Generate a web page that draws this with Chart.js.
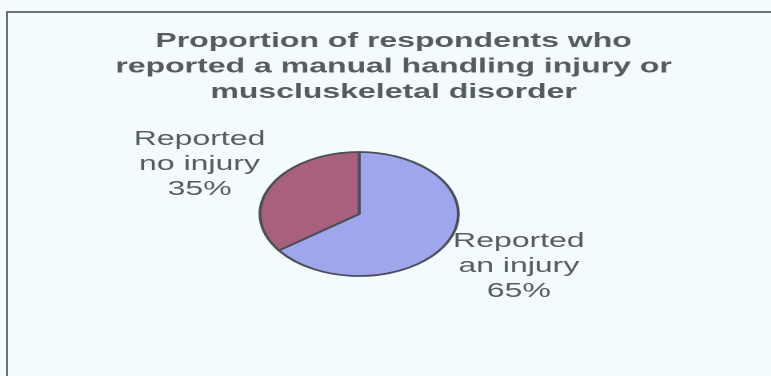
<!DOCTYPE html>
<html>
<head>
<meta charset="utf-8">
<title>Manual handling injuries</title>
<script src="https://cdn.jsdelivr.net/npm/chart.js@4.4.1/dist/chart.umd.min.js"></script>
<style>
  html, body { margin: 0; padding: 0; background: #f3fcfd; overflow: hidden; }
  #page { position: relative; width: 771px; height: 376px; overflow: hidden; }
  #frame {
    position: absolute; left: 6px; top: 11px; width: 820px; height: 420px;
    border-left: 2px solid #6c7179; border-top: 2px solid #6c7179;
  }
  /* the chart is laid out narrow and stretched sideways, like the original sheet */
  #wrap {
    position: absolute; left: 0; top: 0; width: 482px; height: 376px;
    transform: scaleX(1.6); transform-origin: 0 0;
  }
</style>
</head>
<body>
<div id="page">
  <div id="frame"></div>
  <div id="wrap"><canvas id="injuryChart"></canvas></div>
</div>
<script>
const categories = [["Reported", "an injury"], ["Reported", "no injury"]];
const shares = [65, 35];
const titleLines = [
  "Proportion of respondents who",
  "reported a manual handling injury or",
  "muscluskeletal disorder"
];

const FONT = '"Liberation Sans", Arial, sans-serif';

// title and the slice labels sitting outside the pie
const pieText = {
  id: 'pieText',
  afterDraw(chart) {
    const ctx = chart.ctx;
    ctx.save();
    ctx.fillStyle = '#575a61';
    ctx.textAlign = 'center';
    ctx.textBaseline = 'alphabetic';

    ctx.font = 'bold 20px ' + FONT;
    titleLines.forEach((line, i) => {
      ctx.fillText(line, chart.width / 2 + 5, 47 + i * 25.5);
    });

    ctx.font = '20px ' + FONT;
    chart.getDatasetMeta(0).data.forEach((arc, i) => {
      const mid = (arc.startAngle + arc.endAngle) / 2;
      const d = arc.outerRadius + 50;
      const x = arc.x + Math.cos(mid) * d;
      const y = arc.y + Math.sin(mid) * d;
      const lines = categories[i].concat(shares[i] + '%');
      lines.forEach((t, k) => ctx.fillText(t, x, y + 7 + (k - 1) * 25));
    });
    ctx.restore();
  }
};

new Chart(document.getElementById('injuryChart'), {
  type: 'pie',
  data: {
    labels: categories.map(c => c.join(' ')),
    datasets: [{
      data: shares,
      backgroundColor: ['#a0a6ee', '#a8607e'],
      borderColor: '#4a4f57',
      borderWidth: 1.8
    }]
  },
  options: {
    responsive: true,
    maintainAspectRatio: false,
    devicePixelRatio: 2,
    animation: false,
    radius: 62,
    layout: { padding: { left: 0, right: 33, top: 52, bottom: 0 } },
    plugins: {
      legend: { display: false },
      title: { display: false },
      tooltip: { enabled: false }
    }
  },
  plugins: [pieText]
});
</script>
</body>
</html>
